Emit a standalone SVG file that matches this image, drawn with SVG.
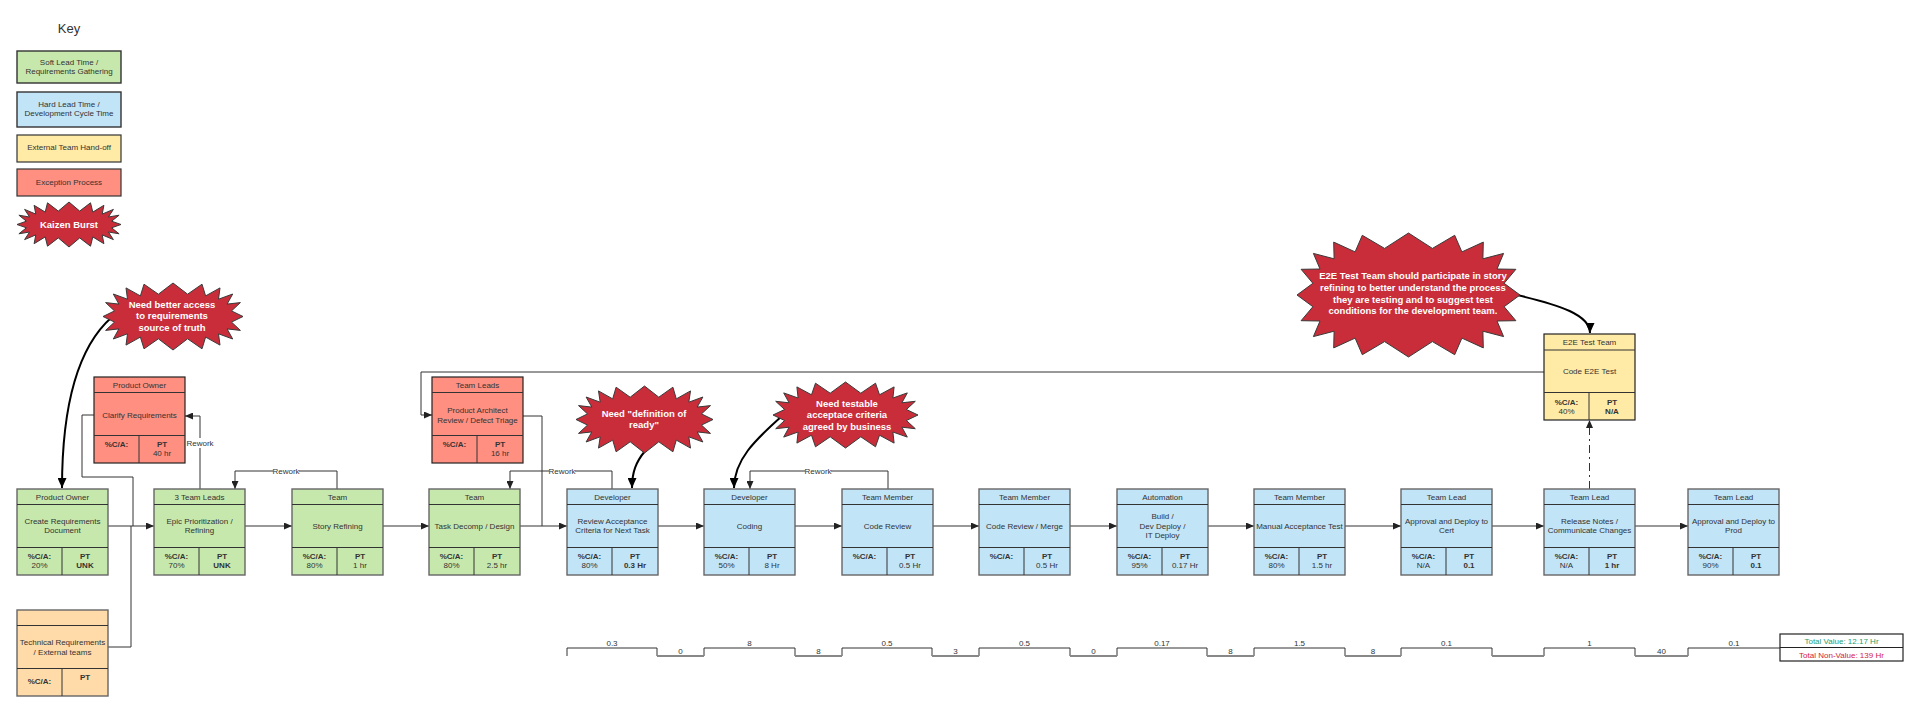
<svg xmlns="http://www.w3.org/2000/svg" width="1920" height="712" viewBox="0 0 1920 712">
<style>
text{font-family:"Liberation Sans",Arial,sans-serif;fill:#333;text-anchor:middle;font-size:8px}
.b{font-weight:bold}
.bt{font-family:"Liberation Sans",Arial,sans-serif;fill:#fff;font-weight:bold;font-size:9.5px}
.g{fill:#C7E8AC;stroke:#666;stroke-width:1.4}
.bl{fill:#C1E4F7;stroke:#666;stroke-width:1.4}
.y{fill:#FFEBA6;stroke:#222;stroke-width:1.2}
.r{fill:#FF8F80;stroke:#222;stroke-width:1.2}
.o{fill:#FFDBA9;stroke:#666;stroke-width:1.4}
.in{stroke:#333;stroke-width:1;fill:none}
.c{stroke:#333;stroke-width:1;fill:none}
.ca{stroke:#333;stroke-width:1;fill:none;marker-end:url(#ah)}
.cb{stroke:#000;stroke-width:2;fill:none;marker-end:url(#ahb)}
.lbl{fill:#fff}
.tl{stroke:#333;stroke-width:1;fill:none}
.tlo{stroke:#888;stroke-width:2;fill:none}
.burst{fill:#C92D39;stroke:#3a3a3a;stroke-width:1}
.tv{fill:#1E9E6E}
.tn{fill:#D4213D}
</style>
<defs>
<marker id="ah" markerUnits="userSpaceOnUse" markerWidth="9" markerHeight="7" refX="8" refY="3.5" orient="auto"><path d="M0,0 L8,3.5 L0,7 z" fill="#222"/></marker>
<marker id="ahb" markerUnits="userSpaceOnUse" markerWidth="11" markerHeight="9" refX="10" refY="4.5" orient="auto"><path d="M0,0 L10,4.5 L0,9 z" fill="#000"/></marker>
</defs>
<rect width="1920" height="712" fill="#fff"/>

<!-- Key -->
<g id="key">
<text x="69" y="33" style="font-size:13px">Key</text>
<rect class="g" x="17" y="51" width="104" height="32" style="stroke:#333"/>
<text x="69" y="65">Soft Lead Time /</text>
<text x="69" y="74">Requirements Gathering</text>
<rect class="bl" x="17" y="92" width="104" height="35" style="stroke:#333"/>
<text x="69" y="107">Hard Lead Time /</text>
<text x="69" y="116">Development Cycle Time</text>
<rect class="y" x="17" y="135" width="104" height="27" style="stroke:#333"/>
<text x="69" y="150">External Team Hand-off</text>
<rect class="r" x="17" y="169" width="104" height="27" style="stroke:#333"/>
<text x="69" y="185">Exception Process</text>
<polygon class="burst" transform="translate(69,224.5)" points="52,0 42.6,3.3 50.1,9.3 39.4,7.5 44.4,15.1 33.2,10.4 34.9,19.2 23.8,12.4 21.5,21.7 10.7,13.4 0,22.5 -10.7,13.4 -21.5,21.7 -23.8,12.4 -34.9,19.2 -33.2,10.4 -44.4,15.1 -39.4,7.5 -50.1,9.3 -42.6,3.3 -52,0 -42.6,-3.3 -50.1,-9.3 -39.4,-7.5 -44.4,-15.1 -33.2,-10.4 -34.9,-19.2 -23.8,-12.4 -21.5,-21.7 -10.7,-13.4 0,-22.5 10.7,-13.4 21.5,-21.7 23.8,-12.4 34.9,-19.2 33.2,-10.4 44.4,-15.1 39.4,-7.5 50.1,-9.3 42.6,-3.3"/>
<text class="bt" x="69" y="228">Kaizen Burst</text>
</g>

<!-- Connectors -->
<g id="connectors">
<path class="ca" d="M108,526 H154"/>
<path class="c" d="M94,415 H82 V477 H133 V526"/>
<path class="c" d="M108,647 H131 V526"/>
<path class="ca" d="M245,526 H292"/>
<path class="ca" d="M383,526 H429"/>
<path class="ca" d="M519,526 H567"/>
<path class="c" d="M523,416 H542 V526"/>
<path class="ca" d="M657,526 H704"/>
<path class="ca" d="M795,526 H842"/>
<path class="ca" d="M932,526 H979"/>
<path class="ca" d="M1070,526 H1117"/>
<path class="ca" d="M1207,526 H1254"/>
<path class="ca" d="M1345,526 H1401"/>
<path class="ca" d="M1492,526 H1544"/>
<path class="ca" d="M1635,526 H1688"/>
<path class="ca" d="M1544,372 H421 V415 H432"/>
<path class="ca" d="M1589.5,489 V420" style="stroke-dasharray:8,4,2,4"/>
<path class="ca" d="M200,489 V416 H185"/>
<path class="ca" d="M337,489 V471 H235 V489"/>
<path class="ca" d="M612,489 V471 H510 V489"/>
<path class="ca" d="M888,489 V471 H750 V489"/>
<rect class="lbl" x="187" y="438" width="26" height="10"/>
<text x="200" y="446">Rework</text>
<rect class="lbl" x="273" y="466" width="26" height="10"/>
<text x="286" y="474">Rework</text>
<rect class="lbl" x="549" y="466" width="26" height="10"/>
<text x="562" y="474">Rework</text>
<rect class="lbl" x="805" y="466" width="26" height="10"/>
<text x="818" y="474">Rework</text>
<path class="cb" d="M112,317 C80,345 62,400 62,488"/>
<path class="cb" d="M645,451 C636,462 632,472 632,488"/>
<path class="cb" d="M782,416 C755,440 734,460 734,488"/>
<path class="cb" d="M1517,295 C1560,305 1590,315 1590,333"/>
</g>

<!-- Kaizen bursts -->
<g id="burst-access">
<polygon class="burst" transform="translate(173,316.5)" points="70,0 58.5,5.6 67.4,13.9 54.1,12.4 59.7,22.5 45.5,17.3 47,28.6 32.6,20.6 29,32.3 14.6,22.3 0,33.5 -14.6,22.3 -29,32.3 -32.6,20.6 -47,28.6 -45.5,17.3 -59.7,22.5 -54.1,12.4 -67.4,13.9 -58.5,5.6 -70,0 -58.5,-5.6 -67.4,-13.9 -54.1,-12.4 -59.7,-22.5 -45.5,-17.3 -47,-28.6 -32.6,-20.6 -29,-32.3 -14.6,-22.3 0,-33.5 14.6,-22.3 29,-32.3 32.6,-20.6 47,-28.6 45.5,-17.3 59.7,-22.5 54.1,-12.4 67.4,-13.9 58.5,-5.6"/>
<text class="bt" x="172" y="307.5">Need better access</text>
<text class="bt" x="172" y="319">to requirements</text>
<text class="bt" x="172" y="330.5">source of truth</text>
</g>
<g id="burst-ready">
<polygon class="burst" transform="translate(644.5,419.5)" points="68.5,0 57,5.6 66,13.9 52.7,12.4 58.4,22.5 44.3,17.3 46,28.6 31.8,20.6 28.4,32.3 14.3,22.3 0,33.5 -14.3,22.3 -28.4,32.3 -31.8,20.6 -46,28.6 -44.3,17.3 -58.4,22.5 -52.7,12.4 -66,13.9 -57,5.6 -68.5,0 -57,-5.6 -66,-13.9 -52.7,-12.4 -58.4,-22.5 -44.3,-17.3 -46,-28.6 -31.8,-20.6 -28.4,-32.3 -14.3,-22.3 0,-33.5 14.3,-22.3 28.4,-32.3 31.8,-20.6 46,-28.6 44.3,-17.3 58.4,-22.5 52.7,-12.4 66,-13.9 57,-5.6"/>
<text class="bt" x="644" y="416.5">Need "definition of</text>
<text class="bt" x="644" y="428">ready"</text>
</g>
<g id="burst-testable">
<polygon class="burst" transform="translate(845.5,415)" points="72.5,0 60.9,5.5 69.8,13.7 56.4,12.2 61.8,22.1 47.4,17 48.6,28.1 34,20.2 30,31.8 15.3,21.8 0,33 -15.3,21.8 -30,31.8 -34,20.2 -48.6,28.1 -47.4,17 -61.8,22.1 -56.4,12.2 -69.8,13.7 -60.9,5.5 -72.5,0 -60.9,-5.5 -69.8,-13.7 -56.4,-12.2 -61.8,-22.1 -47.4,-17 -48.6,-28.1 -34,-20.2 -30,-31.8 -15.3,-21.8 0,-33 15.3,-21.8 30,-31.8 34,-20.2 48.6,-28.1 47.4,-17 61.8,-22.1 56.4,-12.2 69.8,-13.7 60.9,-5.5"/>
<text class="bt" x="847" y="406.5">Need testable</text>
<text class="bt" x="847" y="418">acceptace criteria</text>
<text class="bt" x="847" y="429.5">agreed by business</text>
</g>
<g id="burst-e2e">
<polygon class="burst" transform="translate(1408.5,295)" points="111.5,0 95.6,11.7 107.4,25.7 88.5,26 95.1,41.6 74.4,36.2 74.8,52.9 53.4,43.1 46.2,59.7 23.9,46.6 0,62 -23.9,46.6 -46.2,59.7 -53.4,43.1 -74.8,52.9 -74.4,36.2 -95.1,41.6 -88.5,26 -107.4,25.7 -95.6,11.7 -111.5,0 -95.6,-11.7 -107.4,-25.7 -88.5,-26 -95.1,-41.6 -74.4,-36.2 -74.8,-52.9 -53.4,-43.1 -46.2,-59.7 -23.9,-46.6 0,-62 23.9,-46.6 46.2,-59.7 53.4,-43.1 74.8,-52.9 74.4,-36.2 95.1,-41.6 88.5,-26 107.4,-25.7 95.6,-11.7"/>
<text class="bt" x="1413" y="278.5">E2E Test Team should participate in story</text>
<text class="bt" x="1413" y="290.5">refining to better understand the process</text>
<text class="bt" x="1413" y="302.5">they are testing and to suggest test</text>
<text class="bt" x="1413" y="314">conditions for the development team.</text>
</g>

<!-- Clarify Requirements -->
<g id="n-clarify">
<rect class="r" x="94" y="377" width="91" height="86"/>
<path class="in" d="M94,392.5 H185 M94,435.5 H185 M139,435.5 V463"/>
<text x="139.5" y="388">Product Owner</text>
<text x="139.5" y="418">Clarify Requirements</text>
<text class="b" x="116.5" y="447">%C/A:</text>
<text class="b" x="162" y="447">PT</text>
<text x="162" y="456">40 hr</text>
</g>

<!-- Product Architect -->
<g id="n-architect">
<rect class="r" x="432" y="377" width="91" height="86"/>
<path class="in" d="M432,392.5 H523 M432,435.5 H523 M477,435.5 V463"/>
<text x="477.5" y="388">Team Leads</text>
<text x="477.5" y="413">Product Architect</text>
<text x="477.5" y="422.5">Review / Defect Triage</text>
<text class="b" x="454.5" y="447">%C/A:</text>
<text class="b" x="500" y="447">PT</text>
<text x="500" y="456">16 hr</text>
</g>

<!-- E2E -->
<g id="n-e2e">
<rect class="y" x="1544" y="334" width="91" height="86"/>
<path class="in" d="M1544,350 H1635 M1544,392.5 H1635 M1589,392.5 V420"/>
<text x="1589.5" y="345">E2E Test Team</text>
<text x="1589.5" y="374">Code E2E Test</text>
<text class="b" x="1566.5" y="405">%C/A:</text>
<text x="1566.5" y="414">40%</text>
<text class="b" x="1612" y="405">PT</text>
<text class="b" x="1612" y="414">N/A</text>
</g>

<!-- Technical Requirements -->
<g id="n-techreq">
<rect class="o" x="17" y="610" width="91" height="86"/>
<path class="in" d="M17,625.5 H108 M17,668.5 H108 M62,668.5 V696"/>
<text x="62.5" y="645">Technical Requirements</text>
<text x="62.5" y="654.5">/ External teams</text>
<text class="b" x="39.5" y="684">%C/A:</text>
<text class="b" x="85" y="680">PT</text>
</g>

<!-- Main flow -->
<g id="n1">
<rect class="g" x="17" y="489" width="91" height="86"/>
<path class="in" d="M17,504.5 H108 M17,547.5 H108 M62,547.5 V575"/>
<text x="62.5" y="500">Product Owner</text>
<text x="62.5" y="523.5">Create Requirements</text>
<text x="62.5" y="533">Document</text>
<text class="b" x="39.5" y="559">%C/A:</text><text x="39.5" y="568">20%</text>
<text class="b" x="85" y="559">PT</text><text class="b" x="85" y="568">UNK</text>
</g>
<g id="n2">
<rect class="g" x="154" y="489" width="91" height="86"/>
<path class="in" d="M154,504.5 H245 M154,547.5 H245 M199,547.5 V575"/>
<text x="199.5" y="500">3 Team Leads</text>
<text x="199.5" y="523.5">Epic Prioritization /</text>
<text x="199.5" y="533">Refining</text>
<text class="b" x="176.5" y="559">%C/A:</text><text x="176.5" y="568">70%</text>
<text class="b" x="222" y="559">PT</text><text class="b" x="222" y="568">UNK</text>
</g>
<g id="n3">
<rect class="g" x="292" y="489" width="91" height="86"/>
<path class="in" d="M292,504.5 H383 M292,547.5 H383 M337,547.5 V575"/>
<text x="337.5" y="500">Team</text>
<text x="337.5" y="528.5">Story Refining</text>
<text class="b" x="314.5" y="559">%C/A:</text><text x="314.5" y="568">80%</text>
<text class="b" x="360" y="559">PT</text><text x="360" y="568">1 hr</text>
</g>
<g id="n4">
<rect class="g" x="429" y="489" width="91" height="86"/>
<path class="in" d="M429,504.5 H520 M429,547.5 H520 M474,547.5 V575"/>
<text x="474.5" y="500">Team</text>
<text x="474.5" y="528.5">Task Decomp / Design</text>
<text class="b" x="451.5" y="559">%C/A:</text><text x="451.5" y="568">80%</text>
<text class="b" x="497" y="559">PT</text><text x="497" y="568">2.5 hr</text>
</g>
<g id="n5">
<rect class="bl" x="567" y="489" width="91" height="86"/>
<path class="in" d="M567,504.5 H658 M567,547.5 H658 M612,547.5 V575"/>
<text x="612.5" y="500">Developer</text>
<text x="612.5" y="523.5">Review Acceptance</text>
<text x="612.5" y="533">Criteria for Next Task</text>
<text class="b" x="589.5" y="559">%C/A:</text><text x="589.5" y="568">80%</text>
<text class="b" x="635" y="559">PT</text><text class="b" x="635" y="568">0.3 Hr</text>
</g>
<g id="n6">
<rect class="bl" x="704" y="489" width="91" height="86"/>
<path class="in" d="M704,504.5 H795 M704,547.5 H795 M749,547.5 V575"/>
<text x="749.5" y="500">Developer</text>
<text x="749.5" y="528.5">Coding</text>
<text class="b" x="726.5" y="559">%C/A:</text><text x="726.5" y="568">50%</text>
<text class="b" x="772" y="559">PT</text><text x="772" y="568">8 Hr</text>
</g>
<g id="n7">
<rect class="bl" x="842" y="489" width="91" height="86"/>
<path class="in" d="M842,504.5 H933 M842,547.5 H933 M887,547.5 V575"/>
<text x="887.5" y="500">Team Member</text>
<text x="887.5" y="528.5">Code Review</text>
<text class="b" x="864.5" y="559">%C/A:</text>
<text class="b" x="910" y="559">PT</text><text x="910" y="568">0.5 Hr</text>
</g>
<g id="n8">
<rect class="bl" x="979" y="489" width="91" height="86"/>
<path class="in" d="M979,504.5 H1070 M979,547.5 H1070 M1024,547.5 V575"/>
<text x="1024.5" y="500">Team Member</text>
<text x="1024.5" y="528.5">Code Review / Merge</text>
<text class="b" x="1001.5" y="559">%C/A:</text>
<text class="b" x="1047" y="559">PT</text><text x="1047" y="568">0.5 Hr</text>
</g>
<g id="n9">
<rect class="bl" x="1117" y="489" width="91" height="86"/>
<path class="in" d="M1117,504.5 H1208 M1117,547.5 H1208 M1162,547.5 V575"/>
<text x="1162.5" y="500">Automation</text>
<text x="1162.5" y="519">Build /</text>
<text x="1162.5" y="528.5">Dev Deploy /</text>
<text x="1162.5" y="538">IT Deploy</text>
<text class="b" x="1139.5" y="559">%C/A:</text><text x="1139.5" y="568">95%</text>
<text class="b" x="1185" y="559">PT</text><text x="1185" y="568">0.17 Hr</text>
</g>
<g id="n10">
<rect class="bl" x="1254" y="489" width="91" height="86"/>
<path class="in" d="M1254,504.5 H1345 M1254,547.5 H1345 M1299,547.5 V575"/>
<text x="1299.5" y="500">Team Member</text>
<text x="1299.5" y="528.5">Manual Acceptance Test</text>
<text class="b" x="1276.5" y="559">%C/A:</text><text x="1276.5" y="568">80%</text>
<text class="b" x="1322" y="559">PT</text><text x="1322" y="568">1.5 hr</text>
</g>
<g id="n11">
<rect class="bl" x="1401" y="489" width="91" height="86"/>
<path class="in" d="M1401,504.5 H1492 M1401,547.5 H1492 M1446,547.5 V575"/>
<text x="1446.5" y="500">Team Lead</text>
<text x="1446.5" y="523.5">Approval and Deploy to</text>
<text x="1446.5" y="533">Cert</text>
<text class="b" x="1423.5" y="559">%C/A:</text><text x="1423.5" y="568">N/A</text>
<text class="b" x="1469" y="559">PT</text><text class="b" x="1469" y="568">0.1</text>
</g>
<g id="n12">
<rect class="bl" x="1544" y="489" width="91" height="86"/>
<path class="in" d="M1544,504.5 H1635 M1544,547.5 H1635 M1589,547.5 V575"/>
<text x="1589.5" y="500">Team Lead</text>
<text x="1589.5" y="523.5">Release Notes /</text>
<text x="1589.5" y="533">Communicate Changes</text>
<text class="b" x="1566.5" y="559">%C/A:</text><text x="1566.5" y="568">N/A</text>
<text class="b" x="1612" y="559">PT</text><text class="b" x="1612" y="568">1 hr</text>
</g>
<g id="n13">
<rect class="bl" x="1688" y="489" width="91" height="86"/>
<path class="in" d="M1688,504.5 H1779 M1688,547.5 H1779 M1733,547.5 V575"/>
<text x="1733.5" y="500">Team Lead</text>
<text x="1733.5" y="523.5">Approval and Deploy to</text>
<text x="1733.5" y="533">Prod</text>
<text class="b" x="1710.5" y="559">%C/A:</text><text x="1710.5" y="568">90%</text>
<text class="b" x="1756" y="559">PT</text><text class="b" x="1756" y="568">0.1</text>
</g>

<!-- Timeline -->
<g id="timeline">
<path class="tl" d="M567,656 V648 H657 M704,648 H795 M842,648 H932 M979,648 H1070 M1117,648 H1207 M1254,648 H1345 M1401,648 H1492 M1544,648 H1635 M1688,648 H1780"/>
<path class="tl" d="M657,648 V656 M704,656 V648 M795,648 V656 M842,656 V648 M932,648 V656 M979,656 V648 M1070,648 V656 M1117,656 V648 M1207,648 V656 M1254,656 V648 M1345,648 V656 M1401,656 V648 M1492,648 V656 M1544,656 V648 M1635,648 V656 M1688,656 V648"/>
<path class="tlo" d="M657,656 H704 M795,656 H842 M932,656 H979 M1070,656 H1117 M1207,656 H1254 M1345,656 H1401 M1492,656 H1544 M1635,656 H1688"/>
<g style="font-size:7.5px">
<text x="612" y="646">0.3</text>
<text x="680.5" y="654">0</text>
<text x="749.5" y="646">8</text>
<text x="818.5" y="654">8</text>
<text x="887" y="646">0.5</text>
<text x="955.5" y="654">3</text>
<text x="1024.5" y="646">0.5</text>
<text x="1093.5" y="654">0</text>
<text x="1162" y="646">0.17</text>
<text x="1230.5" y="654">8</text>
<text x="1299.5" y="646">1.5</text>
<text x="1373" y="654">8</text>
<text x="1446.5" y="646">0.1</text>
<text x="1589.5" y="646">1</text>
<text x="1661.5" y="654">40</text>
<text x="1734" y="646">0.1</text>
</g>
<rect x="1780" y="634" width="123" height="27" fill="#fff" stroke="#222" stroke-width="1.2"/>
<line x1="1780" y1="647.5" x2="1903" y2="647.5" stroke="#222" stroke-width="1"/>
<text class="tv" x="1841.5" y="644">Total Value: 12.17 Hr</text>
<text class="tn" x="1841.5" y="657.5">Total Non-Value: 139 Hr</text>
</g>
</svg>
